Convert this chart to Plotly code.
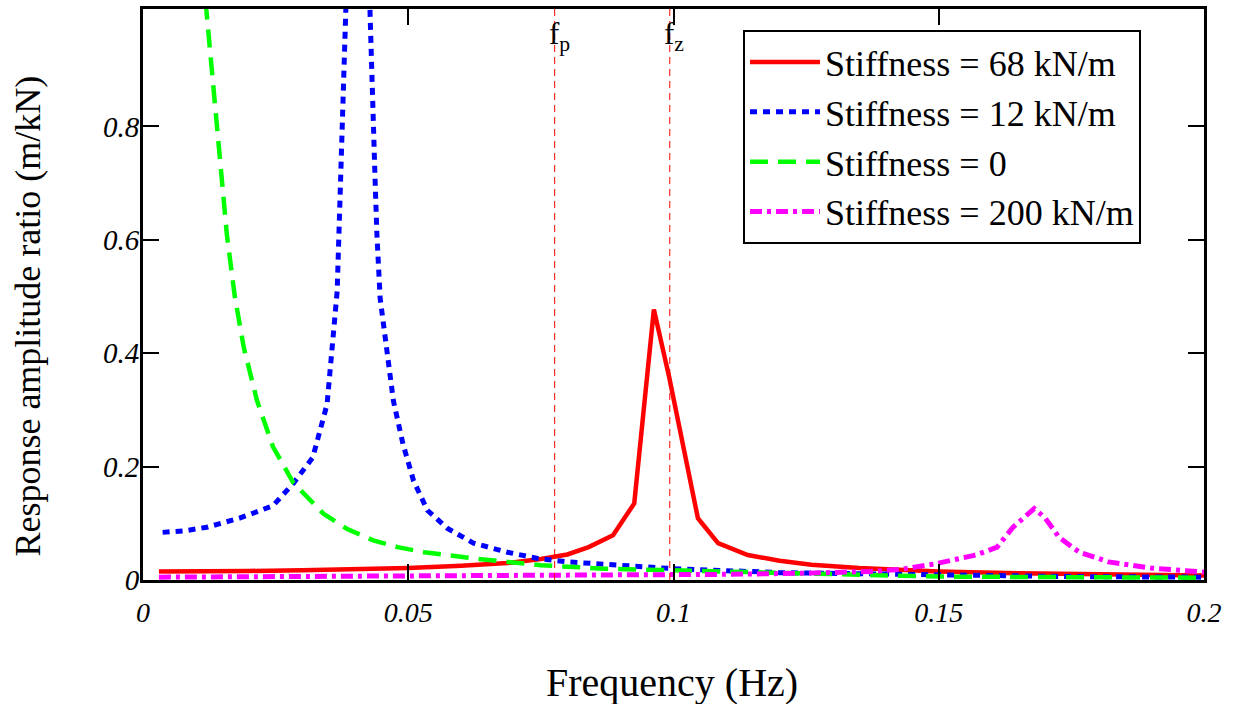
import plotly.graph_objects as go

# ---------------- data ----------------
f_red = [0.003, 0.010, 0.020, 0.030, 0.040, 0.050, 0.060, 0.0687, 0.075, 0.080, 0.084,
         0.0886, 0.0926, 0.0963, 0.0992, 0.1046, 0.1084, 0.114, 0.120, 0.126, 0.135,
         0.150, 0.165, 0.180, 0.200]
y_red = [0.015, 0.015, 0.016, 0.017, 0.019, 0.021, 0.025, 0.030, 0.037, 0.045, 0.058,
         0.079, 0.135, 0.477, 0.357, 0.109, 0.065, 0.044, 0.034, 0.027, 0.021,
         0.015, 0.012, 0.010, 0.008]

f_blue = [0.0037, 0.008, 0.012, 0.0182, 0.0245, 0.0283, 0.032, 0.0347, 0.0366, 0.0372,
          0.0375, 0.0379, 0.039, 0.0415, 0.0428, 0.0432, 0.0438, 0.0441, 0.0447, 0.0472,
          0.049, 0.051, 0.0536, 0.0574, 0.0623, 0.0687, 0.0744, 0.080, 0.090, 0.100,
          0.120, 0.150, 0.175, 0.200]
y_blue = [0.084, 0.087, 0.093, 0.109, 0.131, 0.170, 0.216, 0.31, 0.509, 0.725,
          0.87, 1.0, 2.0, 2.0, 1.0, 0.842, 0.69, 0.608, 0.497, 0.316,
          0.24, 0.175, 0.123, 0.091, 0.065, 0.049, 0.038, 0.032, 0.025, 0.020,
          0.013, 0.008, 0.006, 0.005]

f_green = [0.0118, 0.0139, 0.0158, 0.0173, 0.0190, 0.0215, 0.0245, 0.0283, 0.034, 0.0385,
           0.0434, 0.048, 0.053, 0.0623, 0.075, 0.087, 0.100, 0.125, 0.150, 0.175, 0.200]
y_green = [1.02, 0.80, 0.61, 0.50, 0.41, 0.316, 0.235, 0.172, 0.117, 0.090,
           0.070, 0.058, 0.049, 0.038, 0.026, 0.020, 0.017, 0.010, 0.006, 0.005, 0.004]

f_mag = [0.003, 0.030, 0.060, 0.090, 0.110, 0.125, 0.137, 0.143, 0.149, 0.157, 0.161,
         0.164, 0.168, 0.170, 0.1727, 0.1765, 0.182, 0.190, 0.200]
y_mag = [0.005, 0.006, 0.007, 0.008, 0.010, 0.012, 0.015, 0.019, 0.028, 0.044, 0.058,
         0.093, 0.126, 0.110, 0.075, 0.049, 0.032, 0.021, 0.014]

series_names = ["Stiffness = 68 kN/m", "Stiffness = 12 kN/m", "Stiffness = 0", "Stiffness = 200 kN/m"]

f_p = 0.0776
f_z = 0.0993

x_ticks = [0, 0.05, 0.1, 0.15, 0.2]
x_ticktext = ["0", "0.05", "0.1", "0.15", "0.2"]
y_ticks = [0, 0.2, 0.4, 0.6, 0.8]
y_ticktext = ["0", "0.2", "0.4", "0.6", "0.8"]

FONT = "Liberation Serif"

fig = go.Figure()
fig.add_trace(go.Scatter(x=f_red, y=y_red, mode="lines", name=series_names[0],
                         line=dict(color="#ff0000", width=4.5)))
fig.add_trace(go.Scatter(x=f_blue, y=y_blue, mode="lines", name=series_names[1],
                         line=dict(color="#0000ff", width=5, dash="7px,6px")))
fig.add_trace(go.Scatter(x=f_green, y=y_green, mode="lines", name=series_names[2],
                         line=dict(color="#00ff00", width=4.5, dash="18px,10px")))
fig.add_trace(go.Scatter(x=f_mag, y=y_mag, mode="lines", name=series_names[3],
                         line=dict(color="#ff00ff", width=5, dash="12px,5px,4px,5px")))

for fv in (f_p, f_z):
    fig.add_shape(type="line", xref="x", yref="paper", x0=fv, x1=fv, y0=0, y1=1,
                  line=dict(color="#ff0000", width=1, dash="7px,5px"))

fig.add_annotation(x=f_p, y=1, xref="x", yref="paper", text="f<sub>p</sub>",
                   showarrow=False, xanchor="left", yanchor="top", xshift=-8, yshift=-5,
                   font=dict(family=FONT, size=31, color="black"))
fig.add_annotation(x=f_z, y=1, xref="x", yref="paper", text="f<sub>z</sub>",
                   showarrow=False, xanchor="left", yanchor="top", xshift=-8, yshift=-5,
                   font=dict(family=FONT, size=31, color="black"))

# axis titles
fig.add_annotation(x=0.4986, y=-0.179, xref="paper", yref="paper", text="Frequency (Hz)",
                   showarrow=False, xanchor="center", yanchor="middle",
                   font=dict(family=FONT, size=40, color="black"))
fig.add_annotation(x=-0.108, y=0.462, xref="paper", yref="paper",
                   text="Response amplitude ratio (m/kN)", textangle=-90,
                   showarrow=False, xanchor="center", yanchor="middle",
                   font=dict(family=FONT, size=36, color="black"))

axis_common = dict(showline=True, linecolor="black", linewidth=3, mirror="ticks",
                   ticks="inside", ticklen=16, tickwidth=2, tickcolor="black",
                   showgrid=False, zeroline=False)

fig.update_xaxes(range=[0, 0.2], tickvals=x_ticks, ticktext=x_ticktext,
                 tickfont=dict(family=FONT, size=28, style="italic", color="black"),
                 ticklabelstandoff=5, **axis_common)
fig.update_yaxes(range=[0, 1.007], tickvals=y_ticks, ticktext=y_ticktext,
                 tickfont=dict(family=FONT, size=29, style="italic", color="black"),
                 ticklabelstandoff=-5, **axis_common)

fig.update_layout(
    width=1239, height=704,
    margin=dict(l=143, r=35, t=6, b=124),
    paper_bgcolor="white", plot_bgcolor="white",
    showlegend=True,
    legend=dict(x=0.5655, y=0.963, xanchor="left", yanchor="top",
                bordercolor="black", borderwidth=2, bgcolor="white",
                font=dict(family=FONT, size=36, color="black"),
                itemwidth=70, tracegroupgap=0),
)

fig.write_html("out.html")
